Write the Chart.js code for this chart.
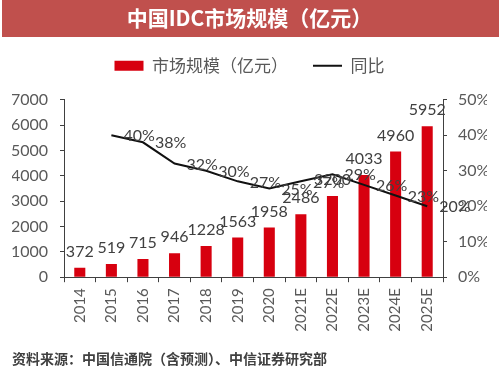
<!DOCTYPE html>
<html>
<head>
<meta charset="utf-8">
<script src="https://cdn.jsdelivr.net/npm/chart.js@4"></script>
<style>
  html, body { margin: 0; padding: 0; background: #fff; }
  #wrap { width: 499px; height: 369px; }
</style>
</head>
<body>
<div id="wrap"><canvas id="idcChart" width="499" height="369"></canvas></div>
<script>
// chart data
const years = ['2014', '2015', '2016', '2017', '2018', '2019', '2020', '2021E', '2022E', '2023E', '2024E', '2025E'];
const marketSize = [372, 519, 715, 946, 1228, 1563, 1958, 2486, 3200, 4033, 4960, 5952];
const growth = [null, 40, 38, 32, 30, 27, 25, 27, 29, 26, 23, 20];

const titleText = '中国IDC市场规模（亿元）';
const sourceText = '资料来源：中国信通院（含预测）、中信证券研究部';

const numFont = 'Lato, "Noto Sans", sans-serif';
const cjkFont = '"Noto Sans CJK SC", "Noto Sans", sans-serif';

// red band behind the title
const titleBand = {
    id: 'titleBand',
    beforeDraw(chart) {
        const ctx = chart.ctx;
        ctx.save();
        ctx.fillStyle = '#C0504D';
        ctx.fillRect(2, 0, chart.width - 2, 37);
        ctx.restore();
    }
};

// value labels for bars and line points
const valueLabels = {
    id: 'valueLabels',
    afterDatasetsDraw(chart) {
        const ctx = chart.ctx;
        ctx.save();
        ctx.font = '16px ' + numFont;
        ctx.fillStyle = '#404040';
        ctx.textBaseline = 'middle';

        ctx.textAlign = 'center';
        chart.getDatasetMeta(0).data.forEach((bar, i) => {
            ctx.fillText(String(marketSize[i]), bar.x, bar.y - 16);
        });

        ctx.textAlign = 'left';
        chart.getDatasetMeta(1).data.forEach((pt, i) => {
            if (growth[i] == null) return;
            ctx.fillText(growth[i] + '%', pt.x + 12, pt.y + 1);
        });
        ctx.restore();
    }
};

new Chart(document.getElementById('idcChart'), {
    type: 'bar',
    data: {
        labels: years,
        datasets: [{
            type: 'bar',
            label: '市场规模（亿元）',
            data: marketSize,
            backgroundColor: '#D7000F',
            borderWidth: 0,
            barPercentage: 0.35,
            categoryPercentage: 1,
            pointStyle: 'rect',
            yAxisID: 'y',
            order: 1
        }, {
            type: 'line',
            label: '同比',
            data: growth,
            borderColor: '#111',
            backgroundColor: '#111',
            borderWidth: 2,
            pointRadius: 0,
            pointStyle: 'line',
            tension: 0,
            yAxisID: 'y1',
            order: 0
        }]
    },
    options: {
        responsive: false,
        animation: false,
        layout: { padding: { left: 12, right: 12, top: 0, bottom: 0 } },
        plugins: {
            tooltip: { enabled: false },
            title: {
                display: true,
                text: titleText,
                color: '#fff',
                font: { family: cjkFont, size: 21, weight: 'bold', lineHeight: 1.2 },
                padding: { top: 5, bottom: 2 }
            },
            legend: {
                display: true,
                labels: {
                    usePointStyle: true,
                    pointStyleWidth: 29,
                    boxHeight: 10,
                    padding: 25,
                    color: '#595959',
                    font: { family: cjkFont, size: 17 },
                    sort: (a, b) => a.datasetIndex - b.datasetIndex
                }
            },
            subtitle: {
                display: true,
                position: 'bottom',
                align: 'start',
                text: sourceText,
                color: '#404040',
                font: { family: cjkFont, size: 14, weight: 'bold', lineHeight: 1.2 },
                padding: { top: 4, bottom: 2 }
            }
        },
        scales: {
            // empty top axis, only keeps a gap under the legend
            gap: {
                type: 'category',
                position: 'top',
                display: true,
                grid: { display: false },
                border: { display: false },
                ticks: { display: false },
                afterFit(scale) { scale.height = 15.5; }
            },
            x: {
                offset: true,
                grid: {
                    display: true,
                    offset: true,
                    drawOnChartArea: false,
                    tickLength: 5,
                    color: '#404040'
                },
                border: { display: true, color: '#404040', width: 1 },
                ticks: {
                    minRotation: 90,
                    maxRotation: 90,
                    padding: 6,
                    color: '#595959',
                    font: { family: numFont, size: 15 }
                },
                afterFit(scale) { scale.height = 69; }
            },
            y: {
                position: 'left',
                min: 0,
                max: 7000,
                grid: {
                    display: true,
                    drawOnChartArea: false,
                    tickLength: 4,
                    color: '#404040'
                },
                border: { display: true, color: '#404040', width: 1 },
                ticks: {
                    stepSize: 1000,
                    padding: 12,
                    color: '#595959',
                    font: { family: numFont, size: 16 },
                    callback: (v) => String(v)
                },
                afterFit(scale) { scale.width = 52; }
            },
            y1: {
                position: 'right',
                min: 0,
                max: 50,
                grid: {
                    display: true,
                    drawOnChartArea: false,
                    tickLength: 4,
                    color: '#404040'
                },
                border: { display: true, color: '#404040', width: 1 },
                ticks: {
                    stepSize: 10,
                    padding: 11,
                    color: '#595959',
                    font: { family: numFont, size: 16 },
                    callback: (v) => v + '%'
                },
                afterFit(scale) { scale.width = 44; }
            }
        }
    },
    plugins: [titleBand, valueLabels]
});
</script>
</body>
</html>
